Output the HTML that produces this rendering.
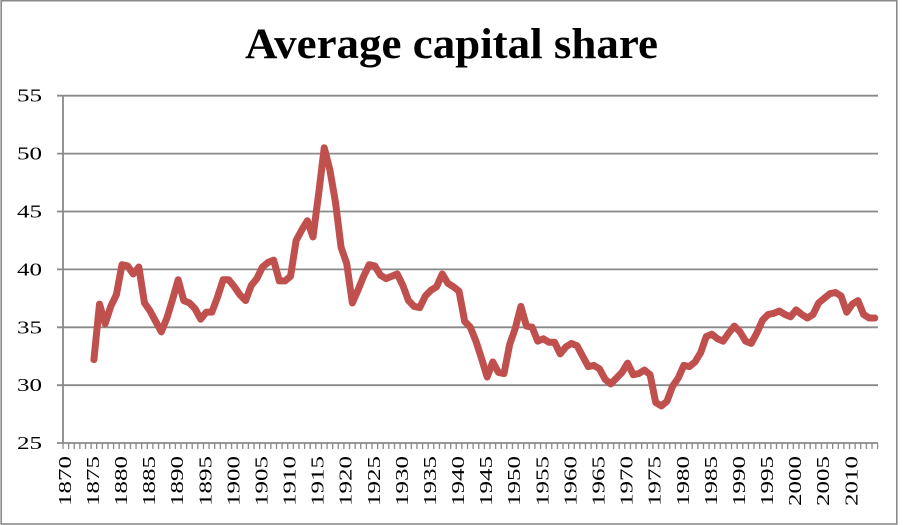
<!DOCTYPE html>
<html>
<head>
<meta charset="utf-8">
<style>
  html, body { margin:0; padding:0; background:#fff; }
  body { width:903px; height:525px; overflow:hidden; }
  svg { display:block; }
  text { font-family: "Liberation Serif", serif; fill:#000; }
</style>
</head>
<body>
<svg width="903" height="525" viewBox="0 0 903 525" xmlns="http://www.w3.org/2000/svg">
  <defs>
    <pattern id="xt" x="62.35" y="443" width="5.618" height="7" patternUnits="userSpaceOnUse">
      <rect x="0" y="0" width="1.3" height="7" fill="#888"/>
    </pattern>
  </defs>
  <rect x="0" y="0" width="903" height="525" fill="#fff"/>
  <!-- chart frame -->
  <rect x="1.2" y="0.7" width="895.6" height="523.3" fill="none" stroke="#8a8a8a" stroke-width="1.6"/>

  <!-- title -->
  <text x="245" y="58" font-size="43" font-weight="bold" textLength="413" lengthAdjust="spacingAndGlyphs">Average capital share</text>

  <!-- gridlines -->
  <g stroke="#898989" stroke-width="1.8">
    <line x1="57" y1="95.7" x2="878" y2="95.7"/>
    <line x1="57" y1="153.6" x2="878" y2="153.6"/>
    <line x1="57" y1="211.5" x2="878" y2="211.5"/>
    <line x1="57" y1="269.4" x2="878" y2="269.4"/>
    <line x1="57" y1="327.3" x2="878" y2="327.3"/>
    <line x1="57" y1="385.2" x2="878" y2="385.2"/>
    <line x1="57" y1="443" x2="878" y2="443"/>
    <line x1="63" y1="95" x2="63" y2="443"/>
  </g>
  <!-- x ticks -->
  <rect x="62.3" y="443" width="816" height="6" fill="url(#xt)"/>

  <!-- y labels -->
  <g font-size="18">
    <text x="17" y="101.7" textLength="25" lengthAdjust="spacingAndGlyphs">55</text>
    <text x="17" y="159.6" textLength="25" lengthAdjust="spacingAndGlyphs">50</text>
    <text x="17" y="217.5" textLength="25" lengthAdjust="spacingAndGlyphs">45</text>
    <text x="17" y="275.4" textLength="25" lengthAdjust="spacingAndGlyphs">40</text>
    <text x="17" y="333.3" textLength="25" lengthAdjust="spacingAndGlyphs">35</text>
    <text x="17" y="391.2" textLength="25" lengthAdjust="spacingAndGlyphs">30</text>
    <text x="17" y="449" textLength="25" lengthAdjust="spacingAndGlyphs">25</text>
  </g>

  <!-- x labels -->
  <g font-size="18">
    <text transform="translate(70.8,506) rotate(-90)" textLength="50" lengthAdjust="spacingAndGlyphs">1870</text>
    <text transform="translate(98.9,506) rotate(-90)" textLength="50" lengthAdjust="spacingAndGlyphs">1875</text>
    <text transform="translate(127.0,506) rotate(-90)" textLength="50" lengthAdjust="spacingAndGlyphs">1880</text>
    <text transform="translate(155.1,506) rotate(-90)" textLength="50" lengthAdjust="spacingAndGlyphs">1885</text>
    <text transform="translate(183.2,506) rotate(-90)" textLength="50" lengthAdjust="spacingAndGlyphs">1890</text>
    <text transform="translate(211.3,506) rotate(-90)" textLength="50" lengthAdjust="spacingAndGlyphs">1895</text>
    <text transform="translate(239.3,506) rotate(-90)" textLength="50" lengthAdjust="spacingAndGlyphs">1900</text>
    <text transform="translate(267.4,506) rotate(-90)" textLength="50" lengthAdjust="spacingAndGlyphs">1905</text>
    <text transform="translate(295.5,506) rotate(-90)" textLength="50" lengthAdjust="spacingAndGlyphs">1910</text>
    <text transform="translate(323.6,506) rotate(-90)" textLength="50" lengthAdjust="spacingAndGlyphs">1915</text>
    <text transform="translate(351.7,506) rotate(-90)" textLength="50" lengthAdjust="spacingAndGlyphs">1920</text>
    <text transform="translate(379.8,506) rotate(-90)" textLength="50" lengthAdjust="spacingAndGlyphs">1925</text>
    <text transform="translate(407.9,506) rotate(-90)" textLength="50" lengthAdjust="spacingAndGlyphs">1930</text>
    <text transform="translate(436.0,506) rotate(-90)" textLength="50" lengthAdjust="spacingAndGlyphs">1935</text>
    <text transform="translate(464.1,506) rotate(-90)" textLength="50" lengthAdjust="spacingAndGlyphs">1940</text>
    <text transform="translate(492.2,506) rotate(-90)" textLength="50" lengthAdjust="spacingAndGlyphs">1945</text>
    <text transform="translate(520.2,506) rotate(-90)" textLength="50" lengthAdjust="spacingAndGlyphs">1950</text>
    <text transform="translate(548.3,506) rotate(-90)" textLength="50" lengthAdjust="spacingAndGlyphs">1955</text>
    <text transform="translate(576.4,506) rotate(-90)" textLength="50" lengthAdjust="spacingAndGlyphs">1960</text>
    <text transform="translate(604.5,506) rotate(-90)" textLength="50" lengthAdjust="spacingAndGlyphs">1965</text>
    <text transform="translate(632.6,506) rotate(-90)" textLength="50" lengthAdjust="spacingAndGlyphs">1970</text>
    <text transform="translate(660.7,506) rotate(-90)" textLength="50" lengthAdjust="spacingAndGlyphs">1975</text>
    <text transform="translate(688.8,506) rotate(-90)" textLength="50" lengthAdjust="spacingAndGlyphs">1980</text>
    <text transform="translate(716.9,506) rotate(-90)" textLength="50" lengthAdjust="spacingAndGlyphs">1985</text>
    <text transform="translate(745.0,506) rotate(-90)" textLength="50" lengthAdjust="spacingAndGlyphs">1990</text>
    <text transform="translate(773.1,506) rotate(-90)" textLength="50" lengthAdjust="spacingAndGlyphs">1995</text>
    <text transform="translate(801.1,506) rotate(-90)" textLength="50" lengthAdjust="spacingAndGlyphs">2000</text>
    <text transform="translate(829.2,506) rotate(-90)" textLength="50" lengthAdjust="spacingAndGlyphs">2005</text>
    <text transform="translate(857.3,506) rotate(-90)" textLength="50" lengthAdjust="spacingAndGlyphs">2010</text>
  </g>

  <!-- data series -->
  <g transform="matrix(5.618 0 0 -11.577 65.809 732.43)">
    <polyline fill="none" stroke="#C0504D" stroke-width="7" stroke-linejoin="round" stroke-linecap="round" vector-effect="non-scaling-stroke"
      points="5,32.2 6,37.0 7,35.3 8,36.8 9,37.8 10,40.4 11,40.3 12,39.6 13,40.2 14,37.1 15,36.4 16,35.5 17,34.6 18,35.8 19,37.4 20,39.1 21,37.3 22,37.1 23,36.6 24,35.7 25,36.3 26,36.3 27,37.6 28,39.1 29,39.1 30,38.5 31,37.8 32,37.3 33,38.6 34,39.2 35,40.2 36,40.6 37,40.8 38,39.0 39,39.0 40,39.4 41,42.5 42,43.4 43,44.2 44,42.8 45,46.5 46,50.5 47,48.6 48,45.8 49,41.9 50,40.5 51,37.1 52,38.2 53,39.4 54,40.4 55,40.3 56,39.5 57,39.2 58,39.4 59,39.6 60,38.6 61,37.3 62,36.8 63,36.7 64,37.7 65,38.2 66,38.5 67,39.6 68,38.8 69,38.5 70,38.1 71,35.5 72,35.0 73,33.8 74,32.3 75,30.7 76,32.0 77,31.1 78,31.0 79,33.5 80,34.9 81,36.8 82,35.1 83,35.0 84,33.8 85,34.0 86,33.7 87,33.7 88,32.7 89,33.3 90,33.6 91,33.4 92,32.5 93,31.6 94,31.7 95,31.4 96,30.5 97,30.1 98,30.6 99,31.1 100,31.9 101,30.9 102,31.0 103,31.3 104,30.9 105,28.5 106,28.2 107,28.6 108,29.9 109,30.6 110,31.7 111,31.6 112,32.0 113,32.8 114,34.2 115,34.4 116,34.0 117,33.8 118,34.5 119,35.1 120,34.6 121,33.8 122,33.6 123,34.5 124,35.6 125,36.1 126,36.2 127,36.4 128,36.1 129,35.9 130,36.5 131,36.1 132,35.8 133,36.1 134,37.1 135,37.5 136,37.9 137,38.0 138,37.7 139,36.3 140,37.0 141,37.3 142,36.1 143,35.8 144,35.8"/>
  </g>
</svg>
</body>
</html>
